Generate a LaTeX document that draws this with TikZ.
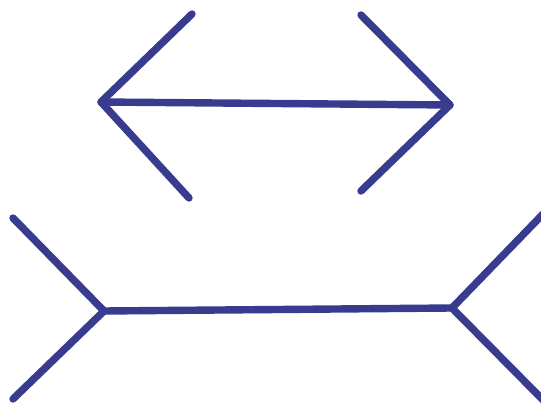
\documentclass[tikz,border=0pt]{standalone}
\usepackage{tikz}
\definecolor{MLBlue}{RGB}{56,60,142}

\begin{document}
\begin{tikzpicture}[
x=1pt,
y=-1pt,
finline/.style={draw=MLBlue,line width=7.4pt,line cap=round,line join=round}
]

\path[use as bounding box,fill=white] (0,0) rectangle (541,403);

% upper figure, fins pointing outward
\coordinate (topL) at (101,102);
\coordinate (topR) at (450,105);
\coordinate (topLup) at (192,14);
\coordinate (topLdn) at (189,198);
\coordinate (topRup) at (361,15);
\coordinate (topRdn) at (361,191);

\draw[finline] (topL) -- (topR);
\draw[finline] (topLup) -- (topL) -- (topLdn);
\draw[finline] (topRup) -- (topR) -- (topRdn);

% lower figure, fins pointing inward
\coordinate (botL) at (104,311);
\coordinate (botR) at (452,308);
\coordinate (botLup) at (13,218);
\coordinate (botLdn) at (13,399);
\coordinate (botRup) at (545,212);
\coordinate (botRdn) at (545,402);

\draw[finline] (botL) -- (botR);
\draw[finline] (botLup) -- (botL) -- (botLdn);
\draw[finline] (botRup) -- (botR) -- (botRdn);

\end{tikzpicture}
\end{document}
